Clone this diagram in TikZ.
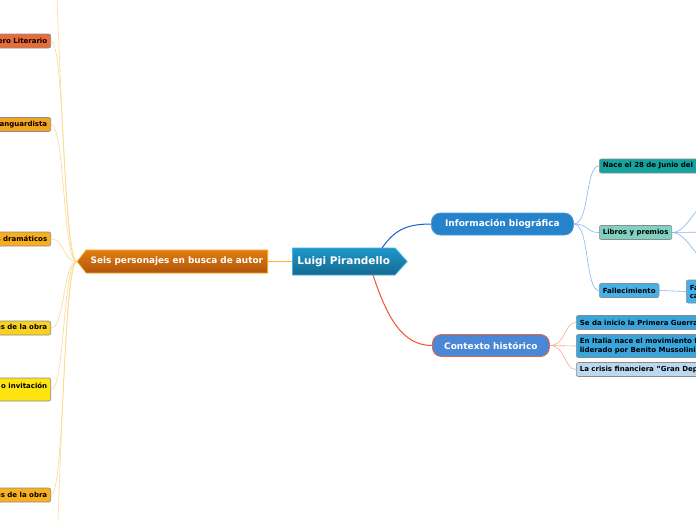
\documentclass[tikz,border=0pt]{standalone}
\usepackage{fontspec}
\setmainfont{DejaVu Sans}
\usetikzlibrary{shapes.symbols}

\definecolor{centtop}{HTML}{1E97CC}
\definecolor{centbot}{HTML}{14698E}
\definecolor{centline}{HTML}{45B2E2}
\definecolor{seistop}{HTML}{E37E12}
\definecolor{seisbot}{HTML}{B0540A}
\definecolor{seisline}{HTML}{F5A623}
\definecolor{infofill}{HTML}{2583CB}
\definecolor{ctxfill}{HTML}{4A87D6}
\definecolor{ctxline}{HTML}{F0603A}
\definecolor{linkblue}{HTML}{1A5FD0}
\definecolor{linkorange}{HTML}{F0542A}
\definecolor{linkyellow}{HTML}{F7B534}
\definecolor{sublblue}{HTML}{8AB6EE}
\definecolor{sublorange}{HTML}{F9A890}
\definecolor{subyellow}{HTML}{FDD98E}
\definecolor{tealdark}{HTML}{14A39F}
\definecolor{teallight}{HTML}{80D1C1}
\definecolor{skyblue}{HTML}{45B1E8}
\definecolor{ctxblue}{HTML}{38A6DC}
\definecolor{palebl}{HTML}{BAD8F0}
\definecolor{genfill}{HTML}{E86C3A}
\definecolor{vanfill}{HTML}{F5A41E}
\definecolor{dramfill}{HTML}{F7AE1F}
\definecolor{persfill}{HTML}{F8D21F}
\definecolor{invfill}{HTML}{FDE410}
\definecolor{carfill}{HTML}{F7B01F}

\begin{document}
\begin{tikzpicture}[
  x=1pt,y=-1pt,
  central/.style={signal, signal to=east, signal pointer angle=96, draw=centline, line width=0.8pt, top color=centtop, bottom color=centbot, text=white, font=\bfseries\fontsize{10.5}{12}\selectfont, minimum height=27pt, inner xsep=5pt, anchor=west},
  mainbranch/.style={draw, rounded corners=9pt, line width=0.8pt, text=white, font=\bfseries\fontsize{9}{10}\selectfont, minimum height=22pt, anchor=west},
  leaf/.style={draw=black!45, rounded corners=2pt, line width=0.6pt, font=\bfseries\fontsize{7}{8.2}\selectfont, minimum height=14pt, inner xsep=3.5pt, inner ysep=1.5pt},
  rightleaf/.style={leaf, anchor=west, align=left},
  leftleaf/.style={leaf, anchor=east, align=left},
  mainlink/.style={line width=1pt},
  sublink/.style={line width=0.6pt}
]
\useasboundingbox[fill=white] (0,0) rectangle (696,520);

\node[central] (luigi) at (292,261.5) {Luigi Pirandello};
\node[signal, signal to=west, signal pointer angle=104, draw=seisline, line width=0.8pt, top color=seistop, bottom color=seisbot, text=white, font=\bfseries\fontsize{8.9}{10}\selectfont, minimum height=23pt, inner xsep=4.5pt, anchor=east] (seis) at (268,261.5) {Seis personajes en busca de autor};

\node[mainbranch, draw=infofill!80!white, fill=infofill, minimum width=142pt] (info) at (431,224) {Información biográfica};
\node[mainbranch, draw=ctxline, fill=ctxfill, minimum width=117pt] (ctx) at (432,345.5) {Contexto histórico};

\draw[mainlink, draw=linkyellow] (seis.east) -- (luigi.west);
\draw[mainlink, draw=linkblue] ([shift={(90,-13.5)}]luigi.west) .. controls +(12,-17) and +(-26,0) .. (info.west);
\draw[mainlink, draw=linkorange] ([shift={(81,13.5)}]luigi.west) .. controls +(14,42) and +(-30,0) .. (ctx.west);

\node[rightleaf, fill=tealdark] (nace) at (599,166) {Nace el 28 de Junio del 1867};
\node[rightleaf, fill=teallight] (libros) at (599,232.5) {Libros y premios};
\node[rightleaf, fill=skyblue] (fallec) at (599,290.5) {Fallecimiento};
\node[rightleaf, fill=skyblue, minimum height=23pt] (muerte) at (686,291.5) {Falleció el 10 de diciembre de 1936 en Roma\\causa: neumonía};

\coordinate (lib1) at (712,199);
\coordinate (lib2) at (712,232);
\coordinate (lib3) at (712,265);

\draw[sublink, draw=sublblue] (info.east) .. controls +(16,0) and +(-14,0) .. (nace.west);
\draw[sublink, draw=sublblue] (info.east) .. controls +(16,0) and +(-14,0) .. (libros.west);
\draw[sublink, draw=sublblue] (info.east) .. controls +(16,0) and +(-14,0) .. (fallec.west);
\draw[sublink, draw=sublblue] (libros.east) .. controls +(16,0) and +(-14,0) .. (lib1);
\draw[sublink, draw=sublblue] (libros.east) -- (lib2);
\draw[sublink, draw=sublblue] (libros.east) .. controls +(16,0) and +(-14,0) .. (lib3);
\draw[sublink, draw=sublblue] (fallec.east) -- (muerte.west);

\node[rightleaf, fill=ctxblue] (guerra) at (576,322.5) {Se da inicio la Primera Guerra Mundial};
\node[rightleaf, fill=ctxblue, minimum height=23pt] (fascismo) at (576,346) {En Italia nace el movimiento fascista\\liderado por Benito Mussolini};
\node[rightleaf, fill=palebl] (crisis) at (576,369.5) {La crisis financiera "Gran Depresión"};

\draw[sublink, draw=sublorange] (ctx.east) .. controls +(16,0) and +(-12,0) .. (guerra.west);
\draw[sublink, draw=sublorange] (ctx.east) -- (fascismo.west);
\draw[sublink, draw=sublorange] (ctx.east) .. controls +(16,0) and +(-12,0) .. (crisis.west);

\node[leftleaf, fill=genfill] (genero) at (51,41) {Género Literario};
\node[leftleaf, fill=vanfill] (vanguard) at (51,124.5) {Teatro Vanguardista};
\node[leftleaf, fill=dramfill] (drama) at (51,239) {Elementos dramáticos};
\node[leftleaf, fill=persfill] (persona) at (51,328) {Personajes de la obra};
\node[leftleaf, fill=invfill, minimum height=23pt] (invita) at (51,389.5) {Una reflexión, un reto o invitación\\al lector};
\node[leftleaf, fill=carfill] (caract) at (51,495) {Características principales de la obra};

\coordinate (topout) at (55,-40);
\coordinate (botout) at (56,560);

\draw[sublink, draw=subyellow] (seis.west) .. controls +(-12,0) and +(4,60) .. (topout);
\draw[sublink, draw=subyellow] (seis.west) .. controls +(-14,0) and +(14,0) .. (genero.east);
\draw[sublink, draw=subyellow] (seis.west) .. controls +(-14,0) and +(14,0) .. (vanguard.east);
\draw[sublink, draw=subyellow] (seis.west) .. controls +(-14,0) and +(14,0) .. (drama.east);
\draw[sublink, draw=subyellow] (seis.west) .. controls +(-14,0) and +(14,0) .. (persona.east);
\draw[sublink, draw=subyellow] (seis.west) .. controls +(-14,0) and +(14,0) .. (invita.east);
\draw[sublink, draw=subyellow] (seis.west) .. controls +(-14,0) and +(14,0) .. (caract.east);
\draw[sublink, draw=subyellow] (seis.west) .. controls +(-12,0) and +(4,-60) .. (botout);
\end{tikzpicture}
\end{document}
